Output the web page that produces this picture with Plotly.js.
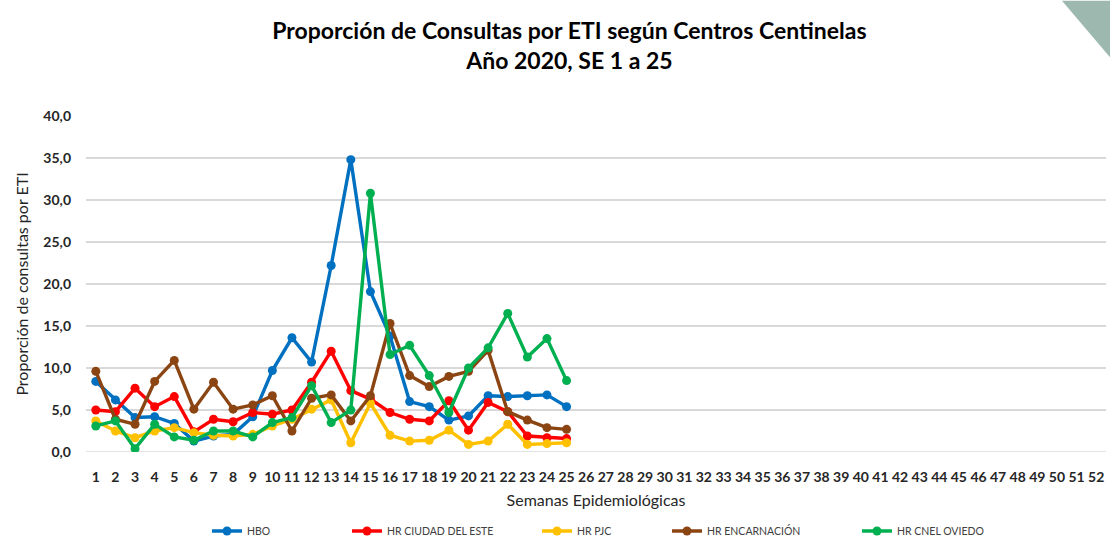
<!DOCTYPE html>
<html><head><meta charset="utf-8">
<script src="https://cdn.plot.ly/plotly-3.0.1.min.js"></script>
<style>body{margin:0;background:#fff}#chart{width:1110px;height:549px}</style>
</head><body><div id="chart"></div>
<script>
const weeks = Array.from({length:25},(_,i)=>i+1);
const allWeeks = Array.from({length:52},(_,i)=>i+1);
const hbo = [8.4,6.2,4.1,4.2,3.4,1.3,1.9,2.1,4.2,9.7,13.6,10.7,22.2,34.8,19.1,13.8,6.0,5.4,3.8,4.3,6.7,6.6,6.7,6.8,5.4];
const ciudadEste = [5.0,4.8,7.6,5.4,6.6,2.4,3.9,3.6,4.7,4.5,5.0,8.3,12.0,7.3,6.3,4.7,3.9,3.7,6.1,2.6,5.9,4.8,1.9,1.7,1.6];
const pjc = [3.7,2.5,1.7,2.5,2.9,2.3,2.0,1.9,2.1,3.1,3.9,5.1,6.2,1.1,5.8,2.0,1.3,1.4,2.6,0.9,1.3,3.3,0.9,1.0,1.1];
const encarnacion = [9.6,3.9,3.3,8.4,10.9,5.1,8.3,5.1,5.6,6.7,2.5,6.4,6.8,3.7,6.7,15.3,9.1,7.8,9.0,9.6,12.1,4.8,3.8,2.9,2.7];
const cnelOviedo = [3.1,3.7,0.4,3.3,1.8,1.4,2.5,2.5,1.8,3.5,4.1,7.9,3.5,5.0,30.8,11.6,12.7,9.1,4.7,10.0,12.4,16.5,11.3,13.5,8.5];
const seriesNames = ['HBO','HR CIUDAD DEL ESTE','HR PJC','HR ENCARNACIÓN','HR CNEL OVIEDO'];
const seriesData = [hbo, ciudadEste, pjc, encarnacion, cnelOviedo];
const seriesColors = ['#0070C0','#FF0000','#FFC000','#8B4513','#00B050'];
const yTicks = [0,5,10,15,20,25,30,35,40];
const yTickText = ['0,0','5,0','10,0','15,0','20,0','25,0','30,0','35,0','40,0'];

const FONT = 'Lato, "Open Sans", sans-serif';
const plotL = 86, plotR = 4, W = 1110;
const pw = W - plotL - plotR;
const legendPx = [207, 347, 537, 667, 857];
const legendKeys = ['legend','legend2','legend3','legend4','legend5'];

const traces = seriesNames.map((n,i)=>({
  x: weeks, y: seriesData[i], name: n, type:'scatter', mode:'lines+markers',
  line:{color:seriesColors[i], width:3.4},
  marker:{color:seriesColors[i], size:9},
  legend: legendKeys[i]
}));

const layout = {
  width:1110, height:549,
  margin:{l:plotL, r:plotR, t:116, b:95},
  paper_bgcolor:'#fff', plot_bgcolor:'#fff',
  font:{family:FONT, color:'#000'},
  title:{text:'<b>Proporción de Consultas por ETI según Centros Centinelas<br>Año 2020, SE 1 a 25</b>',
    x:0.513, xanchor:'center', y:0.929, yanchor:'middle', font:{size:23, color:'#000', family:FONT}},
  xaxis:{range:[0.5,52.5], tickvals:allWeeks, ticktext:allWeeks.map(String), showgrid:false,
    zeroline:false, showline:false, ticks:'', ticklabelstandoff:15, automargin:false,
    tickfont:{size:14, color:'#262626', family:FONT, weight:'bold'},
    tickangle:0, title:{text:'Semanas Epidemiológicas', font:{size:16, color:'#262626', family:FONT}, standoff:10}},
  yaxis:{range:[0,40], tickvals:yTicks, ticktext:yTickText, showgrid:true, gridcolor:'#D9D9D9', gridwidth:1.5,
    zeroline:false, showline:false, ticks:'', ticklabelstandoff:14, automargin:false,
    tickfont:{size:14, color:'#262626', family:FONT, weight:'bold'},
    title:{text:'Proporción de consultas por ETI', font:{size:16, color:'#262626', family:FONT}, standoff:10}},
  shapes:[],
  showlegend:true
};
const toPx = px => (px - plotL)/pw;
const toPy = py => (549 - 95 - py)/(549-116-95);
layout.shapes.push({type:'path', xref:'paper', yref:'paper',
  path:`M ${toPx(1062)} ${toPy(0)} L ${toPx(1110)} ${toPy(0)} L ${toPx(1110)} ${toPy(57)} Z`,
  fillcolor:'#9DB9AF', line:{width:0}, layer:'above'});
layout.shapes.push({type:'line', xref:'paper', yref:'y', x0:0, x1:1, y0:0, y1:0, line:{color:'#D9D9D9', width:1.5}, layer:'below'});
legendKeys.forEach((k,i)=>{
  layout[k] = {x: toPx(legendPx[i]), xanchor:'left', y: toPy(548), yanchor:'bottom',
    orientation:'h', bgcolor:'rgba(0,0,0,0)', borderwidth:0,
    font:{size:10.5, color:'#404040', family:FONT}, itemwidth:30};
});
Plotly.newPlot('chart', traces, layout, {displayModeBar:false, staticPlot:true});
</script></body></html>
